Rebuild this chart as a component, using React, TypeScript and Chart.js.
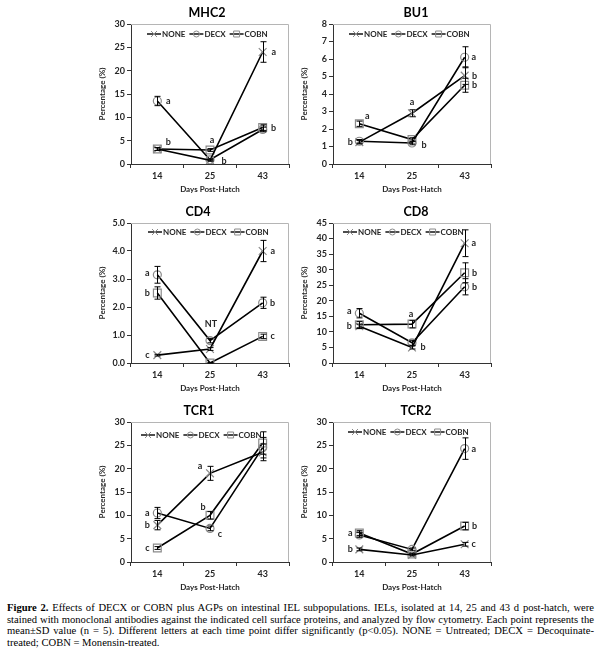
import React, { useEffect, useRef } from "react";
import { Chart, registerables } from "chart.js";

Chart.register(...registerables);

// ---------- data ----------
const DAYS = ["14", "25", "43"];
const SERIES = ["NONE", "DECX", "COBN"];

const MHC2_NONE = [3.2, 0.8, 24.0];
const MHC2_DECX = [13.5, 0.9, 7.4];
const MHC2_COBN = [3.2, 3.0, 7.8];
const MHC2_NONE_SD = [0.3, 0.2, 2.2];
const MHC2_DECX_SD = [1.0, 0.2, 0.5];
const MHC2_COBN_SD = [0.3, 0.3, 0.6];
const MHC2_LETTERS: [number, number, string][] = [[1, 0, "a"], [2, 0, "b"], [2, 1, "a"], [0, 1, "b"], [0, 2, "a"], [2, 2, "b"]];

const BU1_NONE = [1.25, 2.9, 5.05];
const BU1_DECX = [1.3, 1.2, 6.1];
const BU1_COBN = [2.3, 1.4, 4.5];
const BU1_NONE_SD = [0.1, 0.2, 0.5];
const BU1_DECX_SD = [0.1, 0.1, 0.6];
const BU1_COBN_SD = [0.15, 0.1, 0.4];
const BU1_LETTERS: [number, number, string][] = [[2, 0, "a"], [0, 0, "b"], [0, 1, "a"], [1, 1, "b"], [1, 2, "a"], [0, 2, "b"], [2, 2, "b"]];

const CD4_NONE = [0.28, 0.5, 4.0];
const CD4_DECX = [3.15, 0.8, 2.15];
const CD4_COBN = [2.5, 0.0, 0.95];
const CD4_NONE_SD = [0.03, 0.05, 0.38];
const CD4_DECX_SD = [0.3, 0.08, 0.2];
const CD4_COBN_SD = [0.22, 0.02, 0.08];
const CD4_LETTERS: [number, number, string][] = [[1, 0, "a"], [2, 0, "b"], [0, 0, "c"], [1, 1, "NT"], [0, 2, "a"], [1, 2, "b"], [2, 2, "c"]];

const CD8_NONE = [11.8, 5.0, 38.5];
const CD8_DECX = [16.0, 6.5, 24.5];
const CD8_COBN = [12.3, 12.5, 29.0];
const CD8_NONE_SD = [0.7, 0.5, 4.3];
const CD8_DECX_SD = [1.5, 0.8, 2.6];
const CD8_COBN_SD = [1.0, 1.2, 3.2];
const CD8_LETTERS: [number, number, string][] = [[1, 0, "a"], [0, 0, "b"], [2, 1, "a"], [0, 1, "b"], [0, 2, "a"], [2, 2, "b"], [1, 2, "b"]];

const TCR1_NONE = [7.9, 19.0, 23.5];
const TCR1_DECX = [10.5, 7.2, 24.5];
const TCR1_COBN = [3.0, 10.0, 25.5];
const TCR1_NONE_SD = [1.0, 1.5, 1.8];
const TCR1_DECX_SD = [1.2, 0.5, 2.2];
const TCR1_COBN_SD = [0.3, 0.8, 2.4];
const TCR1_LETTERS: [number, number, string][] = [[1, 0, "a"], [0, 0, "b"], [2, 0, "c"], [0, 1, "a"], [2, 1, "b"], [1, 1, "c"]];

const TCR2_NONE = [2.7, 1.5, 3.8];
const TCR2_DECX = [5.8, 2.7, 24.3];
const TCR2_COBN = [6.2, 1.7, 7.7];
const TCR2_NONE_SD = [0.3, 0.2, 0.4];
const TCR2_DECX_SD = [0.5, 0.3, 2.3];
const TCR2_COBN_SD = [0.5, 0.2, 0.8];
const TCR2_LETTERS: [number, number, string][] = [[1, 0, "a"], [0, 0, "b"], [1, 2, "a"], [2, 2, "b"], [0, 2, "c"]];

// ---------- layout (pixel offsets, separate from data) ----------
const LETTER_OFFSETS: Record<string, [number, number][]> = {
  MHC2: [[11, 0], [11, -7], [2, -10], [14, 1], [11, 0], [11, 0]],
  BU1: [[8, -8], [-9, 0], [0, -11], [12, 2], [9, 0], [10, 0], [10, 0]],
  CD4: [[-10, -2], [-10, 0], [-10, 0], [1, -17], [10, 0], [10, 0], [10, 0]],
  CD8: [[-10, -2], [-10, 0], [-1, -10], [11, 0], [9, 0], [10, 0], [10, 0]],
  TCR1: [[-10, 0], [-10, 0], [-10, 0], [-10, -7], [-7, -8], [10, 6]],
  TCR2: [[-9, -2], [-9, 0], [9, 0], [10, 0], [9, 0]],
};

type Panel = {
  title: string;
  left: number;
  top: number;
  width: number;
  padRight: number;
  yMax: number;
  step: number;
  dec: number;
  values: number[][];
  sds: number[][];
  letters: [number, number, string][];
  legend: [number, number];
  titleDx: number;
};

const PANELS: Panel[] = [
  { title: "MHC2", left: 96, top: 0, width: 201, padRight: 8, yMax: 30, step: 5, dec: 0,
    values: [MHC2_NONE, MHC2_DECX, MHC2_COBN], sds: [MHC2_NONE_SD, MHC2_DECX_SD, MHC2_COBN_SD],
    letters: MHC2_LETTERS, legend: [16, 10], titleDx: -3 },
  { title: "BU1", left: 298, top: 0, width: 212, padRight: 19, yMax: 8, step: 1, dec: 0,
    values: [BU1_NONE, BU1_DECX, BU1_COBN], sds: [BU1_NONE_SD, BU1_DECX_SD, BU1_COBN_SD],
    letters: BU1_LETTERS, legend: [16, 10], titleDx: 4 },
  { title: "CD4", left: 96, top: 199, width: 201, padRight: 8, yMax: 5, step: 1, dec: 1,
    values: [CD4_NONE, CD4_DECX, CD4_COBN], sds: [CD4_NONE_SD, CD4_DECX_SD, CD4_COBN_SD],
    letters: CD4_LETTERS, legend: [17, 9], titleDx: -12 },
  { title: "CD8", left: 298, top: 199, width: 212, padRight: 19, yMax: 45, step: 5, dec: 0,
    values: [CD8_NONE, CD8_DECX, CD8_COBN], sds: [CD8_NONE_SD, CD8_DECX_SD, CD8_COBN_SD],
    letters: CD8_LETTERS, legend: [10, 9], titleDx: 4 },
  { title: "TCR1", left: 96, top: 398, width: 201, padRight: 8, yMax: 30, step: 5, dec: 0,
    values: [TCR1_NONE, TCR1_DECX, TCR1_COBN], sds: [TCR1_NONE_SD, TCR1_DECX_SD, TCR1_COBN_SD],
    letters: TCR1_LETTERS, legend: [10, 13], titleDx: -11 },
  { title: "TCR2", left: 298, top: 398, width: 212, padRight: 19, yMax: 30, step: 5, dec: 0,
    values: [TCR2_NONE, TCR2_DECX, TCR2_COBN], sds: [TCR2_NONE_SD, TCR2_DECX_SD, TCR2_COBN_SD],
    letters: TCR2_LETTERS, legend: [15, 10], titleDx: 4 },
];

const CANVAS_H = 197;
const FONT = "Lato";
const TEXT = "#262626";
const AXIS = "#333";
const MARK = "#8a8a8a";
const STYLES = ["crossRot", "circle", "rect"];
const RADII = [5.5, 4, 5.5];

function drawMarker(ctx: CanvasRenderingContext2D, style: string, x: number, y: number, r: number) {
  ctx.beginPath();
  if (style === "circle") {
    ctx.arc(x, y, r, 0, Math.PI * 2);
  } else if (style === "rect") {
    const s = r * Math.SQRT1_2;
    ctx.rect(x - s, y - s, 2 * s, 2 * s);
  } else {
    const s = r * Math.SQRT1_2;
    ctx.moveTo(x - s, y - s);
    ctx.lineTo(x + s, y + s);
    ctx.moveTo(x - s, y + s);
    ctx.lineTo(x + s, y - s);
  }
  ctx.stroke();
}

function PanelChart({ p }: { p: Panel }) {
  const ref = useRef<HTMLCanvasElement>(null);
  useEffect(() => {
    if (!ref.current) return;
    const tickFont = { family: FONT, size: 9, weight: "bold" as const };
    const axisTitleFont = { family: FONT, size: 8, weight: "bold" as const };

    const framePlugin = {
      id: "frame",
      beforeDatasetsDraw(chart: any) {
        const { ctx, chartArea: a } = chart;
        ctx.save();
        ctx.strokeStyle = "#b5b5b5";
        ctx.lineWidth = 1;
        ctx.beginPath();
        ctx.moveTo(a.left, a.top + 0.5);
        ctx.lineTo(a.right - 0.5, a.top + 0.5);
        ctx.lineTo(a.right - 0.5, a.bottom);
        ctx.stroke();
        ctx.restore();
      },
    };

    const errorPlugin = {
      id: "errbars",
      afterDatasetsDraw(chart: any) {
        const { ctx } = chart;
        const ys = chart.scales.y;
        ctx.save();
        ctx.strokeStyle = "#000";
        ctx.lineWidth = 1;
        p.values.forEach((vals, k) => {
          const meta = chart.getDatasetMeta(k);
          vals.forEach((v, i) => {
            const sd = p.sds[k][i];
            const x = Math.round(meta.data[i].x) + 0.5;
            const y1 = ys.getPixelForValue(v + sd);
            const y2 = ys.getPixelForValue(Math.max(0, v - sd));
            ctx.beginPath();
            ctx.moveTo(x, y1);
            ctx.lineTo(x, y2);
            ctx.moveTo(x - 3, y1);
            ctx.lineTo(x + 3, y1);
            ctx.moveTo(x - 3, y2);
            ctx.lineTo(x + 3, y2);
            ctx.stroke();
          });
        });
        ctx.restore();
      },
    };

    const labelPlugin = {
      id: "labels",
      afterDraw(chart: any) {
        const { ctx, chartArea: a } = chart;
        ctx.save();
        // title
        ctx.fillStyle = "#000";
        ctx.font = `bold 12.5px ${FONT}`;
        ctx.textAlign = "center";
        ctx.textBaseline = "middle";
        ctx.fillText(p.title, (a.left + a.right) / 2 + p.titleDx, 13);
        // letters
        ctx.fillStyle = TEXT;
        ctx.font = `bold 9px ${FONT}`;
        const offs = LETTER_OFFSETS[p.title];
        p.letters.forEach(([s, i, t], n) => {
          const pt = chart.getDatasetMeta(s).data[i];
          ctx.fillText(t, pt.x + offs[n][0], pt.y + offs[n][1]);
        });
        // legend
        let x = a.left + p.legend[0];
        const y = a.top + p.legend[1];
        ctx.textAlign = "left";
        ctx.font = `bold 8px ${FONT}`;
        SERIES.forEach((name, k) => {
          ctx.strokeStyle = "#000";
          ctx.lineWidth = 1.4;
          ctx.beginPath();
          ctx.moveTo(x, y);
          ctx.lineTo(x + 14, y);
          ctx.stroke();
          ctx.strokeStyle = MARK;
          ctx.lineWidth = 1;
          drawMarker(ctx, STYLES[k], x + 7, y, k === 1 ? 3 : 4.2);
          ctx.fillStyle = TEXT;
          ctx.fillText(name, x + 15, y + 0.5);
          x += 15 + ctx.measureText(name).width + 4;
        });
        ctx.restore();
      },
    };

    const chart = new Chart(ref.current, {
      type: "line",
      data: {
        labels: DAYS,
        datasets: SERIES.map((name, k) => ({
          label: name,
          data: p.values[k],
          borderColor: "#000",
          borderWidth: 1.6,
          pointStyle: STYLES[k] as any,
          pointRadius: RADII[k],
          pointBorderColor: MARK,
          pointBackgroundColor: "rgba(0,0,0,0)",
          pointBorderWidth: 1.2,
          tension: 0,
          fill: false,
        })),
      },
      options: {
        responsive: false,
        animation: false,
        devicePixelRatio: 1,
        layout: { padding: { top: 24, right: p.padRight, left: 0, bottom: 0 } },
        plugins: {
          legend: { display: false },
          title: { display: false },
          tooltip: { enabled: false },
        },
        scales: {
          x: {
            type: "category",
            offset: true,
            grid: { offset: true, drawOnChartArea: false, drawTicks: true, tickLength: 4, color: AXIS },
            border: { color: AXIS, width: 1 },
            ticks: { font: tickFont, color: TEXT, padding: 3, maxRotation: 0 },
            title: { display: true, text: "Days Post-Hatch", font: axisTitleFont, color: TEXT, padding: { top: 0, bottom: 3 } },
            afterFit: (s: any) => { s.height = 33; },
          },
          y: {
            min: 0,
            max: p.yMax,
            grid: { drawOnChartArea: false, drawTicks: true, tickLength: 4, color: AXIS },
            border: { color: AXIS, width: 1 },
            ticks: {
              stepSize: p.step,
              font: tickFont,
              color: TEXT,
              padding: 2,
              callback: (v: any) => Number(v).toFixed(p.dec),
            },
            title: { display: true, text: "Percentage (%)", font: axisTitleFont, color: TEXT, padding: { top: 2, bottom: 0 } },
            afterFit: (s: any) => { s.width = 35; },
          },
        },
      },
      plugins: [framePlugin, errorPlugin, labelPlugin],
    });
    return () => chart.destroy();
  }, [p]);
  return (
    <canvas
      ref={ref}
      width={p.width}
      height={CANVAS_H}
      style={{ position: "absolute", left: p.left, top: p.top, width: p.width, height: CANVAS_H }}
    />
  );
}

const CAPTION_LINES = [
  "Effects of DECX or COBN plus AGPs on intestinal IEL subpopulations. IELs, isolated at 14, 25 and 43 d post-hatch, were",
  "stained with monoclonal antibodies against the indicated cell surface proteins, and analyzed by flow cytometry. Each point represents the",
  "mean\u00b1SD value (n = 5). Different letters at each time point differ significantly (p<0.05). NONE = Untreated; DECX = Decoquinate-",
  "treated; COBN = Monensin-treated.",
];

export default function App() {
  const lineStyle = (justify: boolean): React.CSSProperties => ({
    whiteSpace: "nowrap",
    textAlign: justify ? "justify" : "left",
    textAlignLast: justify ? "justify" : "left",
    height: 11.5,
    lineHeight: "11.5px",
  });
  return (
    <div style={{ position: "absolute", left: 0, top: 0, width: 600, height: 666, background: "#fff", overflow: "hidden" }}>
      {PANELS.map((p) => (
        <PanelChart key={p.title} p={p} />
      ))}
      <div
        style={{
          position: "absolute",
          left: 7,
          top: 602,
          width: 587,
          fontFamily: "'Liberation Serif', 'Times New Roman', serif",
          fontSize: 10.6,
          color: "#000",
        }}
      >
        {CAPTION_LINES.map((t, i) => (
          <div key={i} style={lineStyle(i < 3)}>
            {i === 0 ? <b>Figure 2. </b> : null}
            {t}
          </div>
        ))}
      </div>
    </div>
  );
}
